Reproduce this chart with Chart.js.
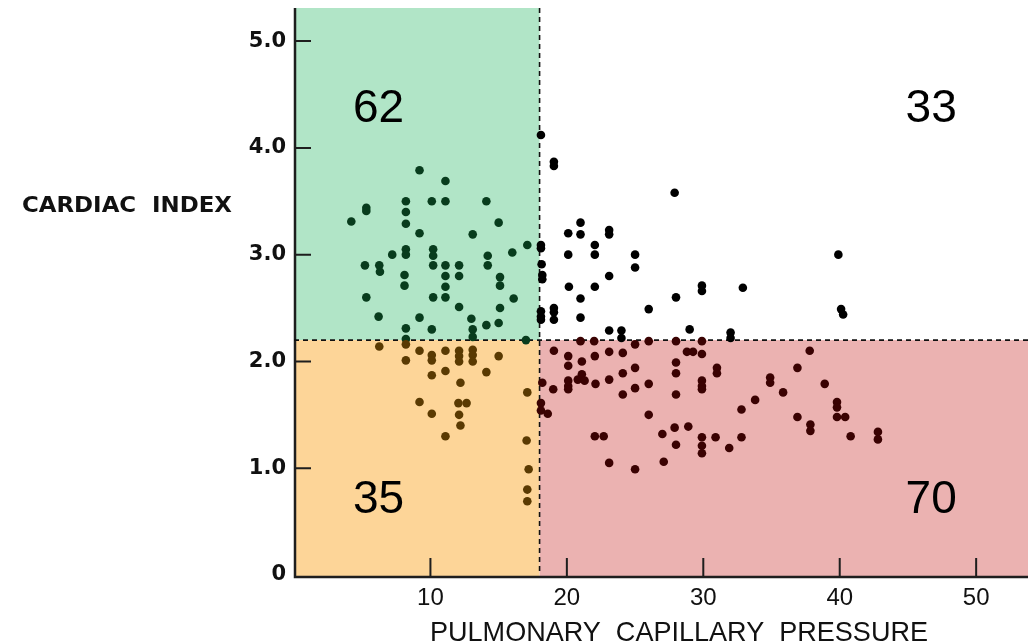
<!DOCTYPE html>
<html><head><meta charset="utf-8">
<script src="https://cdn.jsdelivr.net/npm/chart.js@4"></script>
<style>html,body{margin:0;padding:0;background:#fff}#wrap{width:1028px;height:644px}</style>
</head><body><div id="wrap"><canvas id="c" width="1028" height="644"></canvas></div>
<script>
// Pulmonary capillary pressure (x) and cardiac index (y) for each patient
const pcp = [
 9.2,11.1,8.2,10.1,11.1,14.1,5.3,5.3,8.2,4.2,8.2,15.0,9.2,13.1,17.1,8.2,8.2,7.2,10.2,10.2,16.0,5.2,6.25,6.3,10.2,11.1,12.1,14.2,14.2,8.1,11.1,12.1,15.1,15.1,8.1,11.1,5.3,10.2,11.1,16.1,12.1,15.1,6.2,9.2,13.0,14.1,15.0,8.2,10.1,13.1,8.2,13.1,17.0,
 6.25,8.2,9.2,8.2,10.1,10.1,11.1,12.1,12.1,12.1,13.1,13.1,13.1,15.0,10.1,11.1,14.1,12.2,17.1,9.2,12.05,12.65,10.1,12.1,12.2,11.1,17.05,17.2,17.1,17.1,
 18.1,19.05,19.05,27.9,21.0,21.0,20.1,23.1,23.1,18.1,18.1,22.05,22.05,20.1,25.0,25.0,18.15,18.2,18.2,23.1,20.15,22.05,21.0,28.0,29.9,29.9,32.9,26.0,18.1,18.1,18.1,19.05,19.05,19.05,21.0,23.1,24.0,29.0,32.0,32.0,24.0,39.9,40.1,40.25,
 21.0,22.0,26.0,28.0,29.9,25.0,19.05,20.1,20.1,21.1,22.05,23.1,24.1,28.8,29.25,29.9,28.0,28.0,25.0,24.1,31.0,31.0,21.1,20.8,21.3,20.1,20.1,20.1,18.2,19.0,22.1,23.1,25.0,26.0,24.1,28.0,29.9,29.9,29.9,34.9,34.9,35.85,33.8,32.8,18.1,18.1,18.6,26.0,27.9,28.9,27.0,22.05,22.7,28.0,29.9,29.9,29.9,30.9,32.8,31.9,23.1,25.0,27.1,37.8,36.9,38.9,39.8,39.8,36.9,39.8,40.4,37.85,37.85,40.8,42.8,42.8
];
const ci = [
 3.79,3.69,3.50,3.50,3.50,3.50,3.44,3.41,3.40,3.31,3.29,3.30,3.20,3.19,3.09,3.05,3.00,3.00,3.05,2.99,3.02,2.90,2.90,2.84,2.90,2.90,2.90,2.99,2.90,2.81,2.80,2.80,2.79,2.71,2.71,2.70,2.60,2.60,2.60,2.59,2.51,2.50,2.42,2.41,2.40,2.34,2.36,2.31,2.30,2.30,2.21,2.23,2.20,
 2.14,2.16,2.10,2.01,2.06,2.01,2.10,2.10,2.05,2.00,2.11,2.06,2.00,2.05,1.87,1.91,1.90,1.80,1.71,1.62,1.61,1.61,1.51,1.50,1.40,1.30,1.26,0.99,0.80,0.69,
 4.12,3.87,3.83,3.58,3.30,3.19,3.20,3.23,3.19,3.09,3.06,3.09,3.00,3.00,3.00,2.88,2.91,2.81,2.77,2.80,2.70,2.70,2.59,2.60,2.71,2.66,2.69,2.49,2.47,2.42,2.39,2.50,2.46,2.39,2.41,2.29,2.29,2.30,2.27,2.22,2.22,3.00,2.49,2.44,
 2.19,2.19,2.19,2.19,2.19,2.16,2.10,2.05,1.96,2.00,2.05,2.09,2.08,2.09,2.09,2.07,1.99,1.89,1.94,1.89,1.94,1.89,1.88,1.83,1.82,1.82,1.77,1.74,1.80,1.74,1.79,1.83,1.75,1.79,1.69,1.69,1.82,1.77,1.74,1.85,1.80,1.71,1.64,1.55,1.61,1.54,1.51,1.50,1.38,1.39,1.32,1.30,1.30,1.22,1.29,1.21,1.14,1.29,1.29,1.19,1.05,0.99,1.06,2.10,1.94,1.79,1.62,1.57,1.48,1.48,1.48,1.41,1.35,1.30,1.34,1.27
];
const quadrantCounts = [62, 33, 35, 70]; // top-left, top-right, bottom-left, bottom-right
const pcpThreshold = 18;
const ciThreshold = 2.2;
const xTickValues = [10, 20, 30, 40, 50];
const yTickValues = [0, 1, 2, 3, 4, 5];
const xTitle = 'PULMONARY  CAPILLARY  PRESSURE';
const yTitle = 'CARDIAC  INDEX';

function dotColor(p) {
  if (!p) return '#000';
  if (p.x < pcpThreshold) return p.y >= ciThreshold ? '#083c1d' : '#5a3a02';
  return p.y >= ciThreshold ? '#000000' : '#3a0202';
}

function fitText(ctx, text, left, baseline, width) {
  const w = ctx.measureText(text).width;
  ctx.save();
  ctx.translate(left, baseline);
  ctx.scale(width / w, 1);
  ctx.fillText(text, 0, 0);
  ctx.restore();
}

const regionsPlugin = {
  id: 'regions',
  beforeDatasetsDraw(chart) {
    const { ctx, scales: { x, y } } = chart;
    const x0 = x.getPixelForValue(x.min), x1 = x.getPixelForValue(pcpThreshold), x2 = x.getPixelForValue(x.max);
    const y0 = y.getPixelForValue(0), y1 = y.getPixelForValue(ciThreshold), y2 = y.getPixelForValue(y.max);
    ctx.save();
    ctx.fillStyle = '#b1e5c7'; ctx.fillRect(x0, y2, x1 - x0, y1 - y2);
    ctx.fillStyle = '#fdd598'; ctx.fillRect(x0, y1, x1 - x0, y0 - y1 + 2);
    ctx.fillStyle = '#ebb2b1'; ctx.fillRect(x1, y1, x2 - x1, y0 - y1 + 2);
    // inward ticks
    ctx.strokeStyle = '#1e1e1e'; ctx.lineWidth = 2;
    ctx.beginPath();
    yTickValues.forEach(v => { if (v > 0) { const py = y.getPixelForValue(v); ctx.moveTo(x0, py); ctx.lineTo(x0 + 17, py); } });
    xTickValues.forEach(v => { const px = x.getPixelForValue(v); ctx.moveTo(px, y0 + 1); ctx.lineTo(px, y0 - 17); });
    ctx.stroke();
    // axes
    ctx.lineWidth = 2.5;
    ctx.beginPath();
    ctx.moveTo(x0 + 1, y2); ctx.lineTo(x0 + 1, y0 + 2); ctx.lineTo(x2, y0 + 2);
    ctx.stroke();
    // dashed threshold lines
    ctx.setLineDash([5, 4]); ctx.lineWidth = 1.6; ctx.strokeStyle = '#111';
    ctx.beginPath();
    ctx.moveTo(x1, y2); ctx.lineTo(x1, y0);
    ctx.moveTo(x0, y1); ctx.lineTo(x2, y1);
    ctx.stroke();
    ctx.restore();
  },
  afterDatasetsDraw(chart) {
    const { ctx, scales: { x, y } } = chart;
    ctx.save();
    ctx.fillStyle = '#000';
    ctx.font = '46px "Liberation Sans", Arial, sans-serif';
    ctx.textAlign = 'center'; ctx.textBaseline = 'middle';
    const cols = [x.getPixelForValue(6.2), x.getPixelForValue(46.7)];
    const rows = [y.getPixelForValue(4.36), y.getPixelForValue(0.70)];
    ctx.fillText(String(quadrantCounts[0]), cols[0], rows[0]);
    ctx.fillText(String(quadrantCounts[1]), cols[1], rows[0]);
    ctx.fillText(String(quadrantCounts[2]), cols[0], rows[1]);
    ctx.fillText(String(quadrantCounts[3]), cols[1], rows[1]);
    // axis titles
    ctx.textAlign = 'left'; ctx.textBaseline = 'alphabetic';
    ctx.fillStyle = '#111';
    ctx.font = 'bold 22px "DejaVu Sans", sans-serif';
    fitText(ctx, yTitle, 22, 212, 210);
    ctx.font = '28px "Liberation Sans Narrow", "Liberation Sans", sans-serif';
    fitText(ctx, xTitle, 430, 641, 498);
    ctx.restore();
  }
};

new Chart(document.getElementById('c'), {
  type: 'scatter',
  data: {
    datasets: [{
      data: pcp.map((v, i) => ({ x: v, y: ci[i] })),
      pointRadius: 4.3, pointHoverRadius: 4.3, borderWidth: 0,
      backgroundColor: c => dotColor(c.raw), pointBackgroundColor: c => dotColor(c.raw)
    }]
  },
  options: {
    responsive: false, animation: false, devicePixelRatio: 1,
    layout: { autoPadding: false, padding: { top: 8, left: 0, right: 0, bottom: 0 } },
    plugins: { legend: { display: false }, tooltip: { enabled: false } },
    scales: {
      x: {
        type: 'linear', min: 0, max: 53.8,
        afterFit(s) { s.height = 69; s.paddingLeft = 0; s.paddingRight = 0; },
        grid: { display: false, drawTicks: false }, border: { display: false },
        afterBuildTicks(s) { s.ticks = xTickValues.map(v => ({ value: v })); },
        ticks: { padding: 9, color: '#111', font: { family: '"Liberation Sans Narrow", "Liberation Sans", sans-serif', size: 24 }, callback: v => String(v) }
      },
      y: {
        type: 'linear', min: 0, max: 5.31,
        afterFit(s) { s.width = 294; s.paddingTop = 0; s.paddingBottom = 0; },
        grid: { display: false, drawTicks: false }, border: { display: false },
        afterBuildTicks(s) { s.ticks = yTickValues.map(v => ({ value: v })); },
        ticks: { padding: 8, color: '#111', font: { family: '"DejaVu Sans", sans-serif', weight: 'bold', size: 21 }, callback: v => v === 0 ? '0' : Number(v).toFixed(1) }
      }
    }
  },
  plugins: [regionsPlugin]
});
</script>
</body></html>
